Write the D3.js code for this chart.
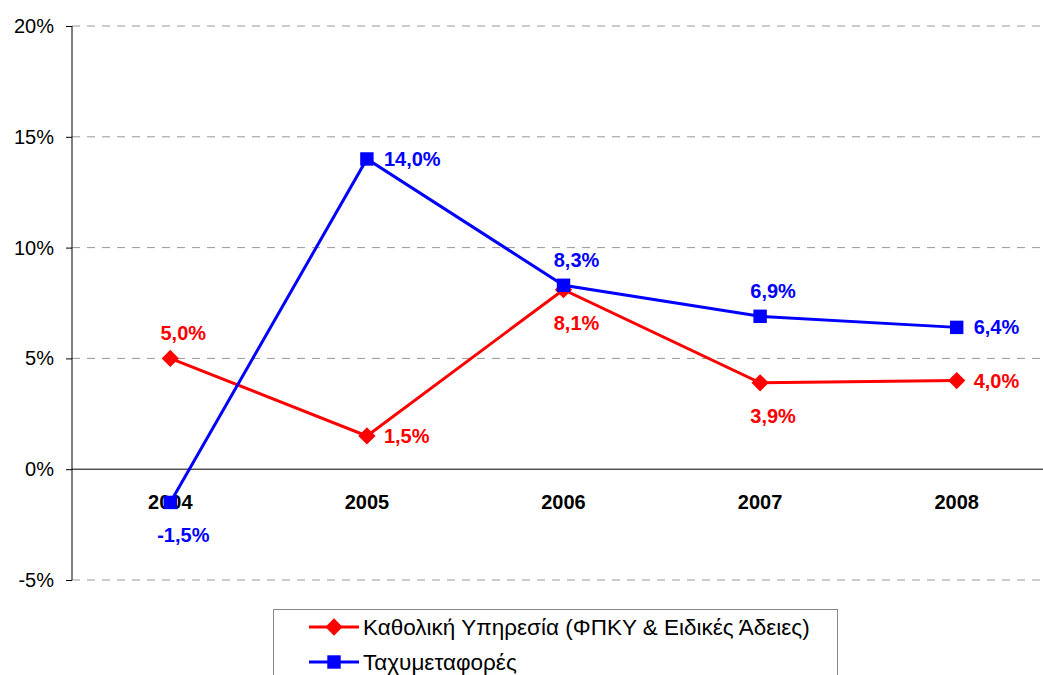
<!DOCTYPE html>
<html lang="el">
<head>
  <meta charset="UTF-8">
  <script src="https://d3js.org/d3.v7.min.js"></script>
  <style>
    body { margin: 0; background: #fff; }
    text { font-family: "Liberation Sans", Arial, sans-serif; }
    .grid line { stroke: #999; stroke-dasharray: 8 7; }
  </style>
</head>
<body>
  <script>
    const width = 1043, height = 675;

    const years = ["2004", "2005", "2006", "2007", "2008"];
    const universal = [5.0, 1.5, 8.1, 3.9, 4.0];
    const courier = [-1.5, 14.0, 8.3, 6.9, 6.4];
    const yTicks = [-5, 0, 5, 10, 15, 20];
    const seriesNames = ["Καθολική Υπηρεσία (ΦΠΚΥ & Ειδικές Άδειες)", "Ταχυμεταφορές"];
    // where each data label sits relative to its point
    const universalLabelPos = ["above", "right", "below", "below", "right"];
    const courierLabelPos = ["below", "right", "above", "above", "right"];

    const fmt = v => d3.format(".1f")(v).replace(".", ",").replace("\u2212", "-") + "%";

    const svg = d3.select("body").append("svg").attr("width", width).attr("height", height);

    const x = d3.scalePoint().domain(years).range([72, 1055]).padding(0.5);
    const y = d3.scaleLinear().domain([-5, 20]).range([580, 26]);

    // gridlines
    svg.append("g").attr("class", "grid")
      .selectAll("line")
      .data(yTicks.filter(d => d !== 0))
      .join("line")
      .attr("x1", 72).attr("x2", width)
      .attr("y1", d => y(d)).attr("y2", d => y(d));

    // y axis
    const yAxis = svg.append("g")
      .attr("transform", "translate(72,0)")
      .call(d3.axisLeft(y).tickValues(yTicks).tickFormat(d => d + "%").tickSize(6).tickPadding(12));
    yAxis.select(".domain").attr("stroke", "#000").attr("d", `M0,${y(-5)}V${y(20)}`);
    yAxis.selectAll(".tick line").attr("stroke", "#000");
    yAxis.selectAll(".tick text").attr("font-size", 20).attr("fill", "#000")
      .style("font-family", "'Liberation Sans', Arial, sans-serif");

    // zero line
    svg.append("line")
      .attr("x1", 72).attr("x2", width)
      .attr("y1", y(0)).attr("y2", y(0))
      .attr("stroke", "#000");

    // category labels
    svg.append("g").selectAll("text")
      .data(years)
      .join("text")
      .attr("x", d => x(d))
      .attr("y", y(0) + 40)
      .attr("text-anchor", "middle")
      .attr("font-size", 20)
      .attr("font-weight", "bold")
      .text(d => d);

    const line = d3.line().x((d, i) => x(years[i])).y(d => y(d));

    function labelAttrs(sel, vals, pos) {
      sel.attr("x", (d, i) => x(years[i]) + (pos[i] === "right" ? 17 : 13))
        .attr("y", (d, i) => y(vals[i]) + (pos[i] === "above" ? -18 : pos[i] === "below" ? 40 : 0))
        .attr("dy", (d, i) => pos[i] === "right" ? "0.35em" : 0)
        .attr("text-anchor", (d, i) => pos[i] === "right" ? "start" : "middle");
    }

    const diamond = d3.symbol().type(d3.symbolDiamond2).size(190);
    const square = d3.symbol().type(d3.symbolSquare).size(180);

    function drawSeries(vals, color, sym, pos) {
      const g = svg.append("g");
      g.append("path").datum(vals)
        .attr("d", line)
        .attr("fill", "none")
        .attr("stroke", color)
        .attr("stroke-width", 3);
      g.selectAll(".pt").data(vals).join("path")
        .attr("class", "pt")
        .attr("transform", (d, i) => `translate(${x(years[i])},${y(d)})`)
        .attr("d", sym())
        .attr("fill", color);
      g.selectAll(".lbl").data(vals).join("text")
        .attr("class", "lbl")
        .call(labelAttrs, vals, pos)
        .attr("font-size", 20)
        .attr("font-weight", "bold")
        .attr("fill", color)
        .text(d => fmt(d));
    }

    drawSeries(universal, "#ff0000", diamond, universalLabelPos);
    drawSeries(courier, "#0000ff", square, courierLabelPos);

    // legend
    const legend = svg.append("g");
    legend.append("rect")
      .attr("x", 273.5).attr("y", 609.5)
      .attr("width", 564).attr("height", 90)
      .attr("fill", "#fff").attr("stroke", "#888");
    const legendItems = [
      { name: seriesNames[0], color: "#ff0000", sym: diamond },
      { name: seriesNames[1], color: "#0000ff", sym: square }
    ];
    const li = legend.selectAll(".li").data(legendItems).join("g")
      .attr("class", "li")
      .attr("transform", (d, i) => `translate(0,${627 + i * 35})`);
    li.append("line").attr("x1", 309).attr("x2", 359)
      .attr("stroke", d => d.color).attr("stroke-width", 3);
    li.append("path").attr("transform", "translate(334,0)")
      .attr("d", d => d.sym()).attr("fill", d => d.color);
    li.append("text").attr("x", 363).attr("dy", "0.35em")
      .attr("font-size", 22.5)
      .text(d => d.name);
  </script>
</body>
</html>
